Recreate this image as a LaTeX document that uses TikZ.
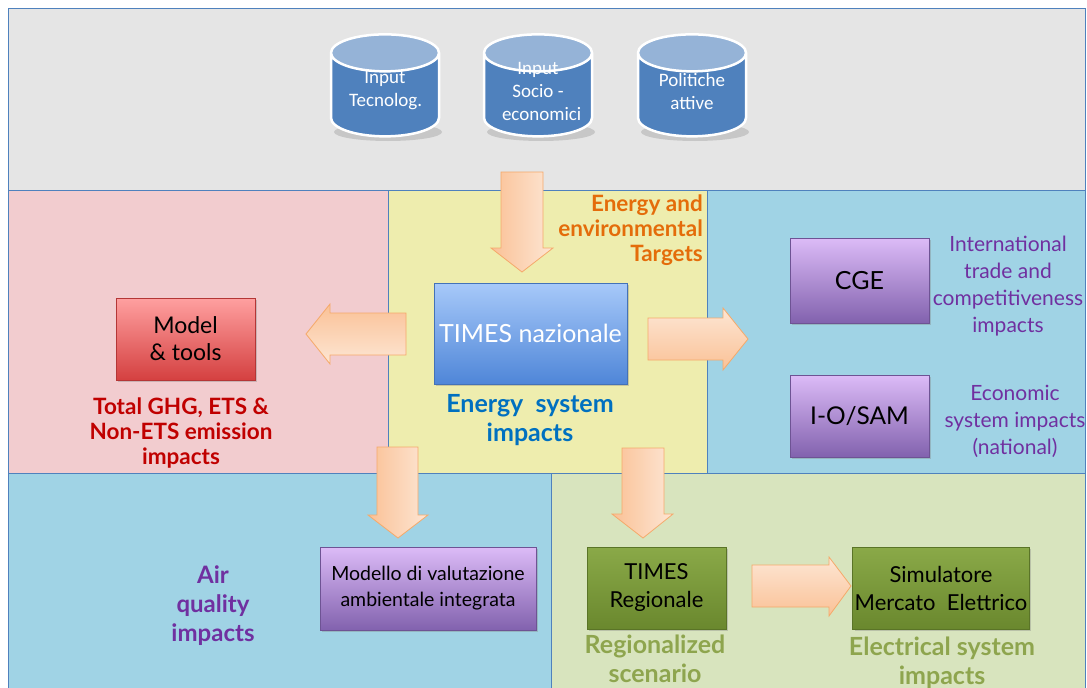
\documentclass[tikz,border=0pt]{standalone}
\usepackage{fontspec}
\setmainfont{Lato}
\newfontfamily\dbfamily{Carlito}
\usetikzlibrary{shapes.geometric,shadows}

% panel and text colours
\definecolor{frameblue}{HTML}{4F81BD}
\definecolor{inputgray}{HTML}{E5E5E5}
\definecolor{ghgpink}{HTML}{F2CCCF}
\definecolor{timesyellow}{HTML}{EEEDAE}
\definecolor{econblue}{HTML}{A0D3E5}
\definecolor{elecgreen}{HTML}{D8E4BE}
\definecolor{dbbody}{HTML}{4F81BD}
\definecolor{dbtop}{HTML}{95B3D7}
\definecolor{peachdark}{HTML}{FAC196}
\definecolor{peachlight}{HTML}{FDE6D4}
\definecolor{peachline}{HTML}{F5A96A}
\definecolor{targetorange}{HTML}{E46C0A}
\definecolor{ghgred}{HTML}{C00000}
\definecolor{energyblue}{HTML}{0070C0}
\definecolor{econpurple}{HTML}{7030A0}
\definecolor{regolive}{HTML}{8EA54E}
% model box shadings
\definecolor{toolstop}{HTML}{FFA0A0}
\definecolor{toolsbot}{HTML}{D44040}
\definecolor{timestop}{HTML}{A7C9F9}
\definecolor{timesbot}{HTML}{4F86D8}
\definecolor{cgetop}{HTML}{DCBBF7}
\definecolor{cgebot}{HTML}{8262AE}
\definecolor{regtop}{HTML}{8AA948}
\definecolor{regbot}{HTML}{6A882E}

\newcommand\dbtext{\dbfamily\fontsize{19}{23}\selectfont}
\newcommand\boxtext{\fontsize{23}{27}\selectfont}
\newcommand\smallboxtext{\fontsize{22}{28}\selectfont}
\newcommand\notetext{\fontsize{22.5}{25}\selectfont}
\newcommand\bignotetext{\fontsize{25}{28.5}\selectfont}
\newcommand\econtext{\fontsize{21}{27}\selectfont}
% same text box for every database, so the cylinders come out alike
\newcommand\dbcontent[1]{\parbox[c][46pt][c]{72pt}{\centering #1\par\vspace{12pt}}}

\tikzset{
  panel/.style={draw=frameblue, line width=0.8pt},
  db/.style={cylinder, shape border rotate=90, aspect=0.5,
    minimum width=108pt, minimum height=102pt, inner sep=1pt,
    draw=white, line width=2.5pt, cylinder uses custom fill,
    cylinder body fill=dbbody, cylinder end fill=dbtop,
    text=white, font=\dbtext},
  model/.style 2 args={top color=#1, bottom color=#2, draw=#2!85!black,
    line width=0.6pt, minimum width=139pt, minimum height=82pt,
    align=center, font=\boxtext, inner sep=2pt,
    drop shadow={opacity=0.35, shadow xshift=2pt, shadow yshift=-2pt}},
  note/.style={align=center, inner sep=0pt, font=\notetext\bfseries},
  fatarrow/.style={draw=peachline, line width=0.8pt, line join=miter},
}

\begin{document}
\begin{tikzpicture}[x=1pt,y=-1pt]
  \useasboundingbox (0,0) rectangle (1087,688);

  % background panels
  \draw[panel, fill=inputgray]   (8,8)    rectangle (1085,190);
  \draw[panel, fill=ghgpink]     (8,190)  rectangle (388,473);
  \draw[panel, fill=timesyellow] (388,190) rectangle (707,473);
  \draw[panel, fill=econblue]    (707,190) rectangle (1085,473);
  \draw[panel, fill=econblue]    (8,473)  rectangle (551,692);
  \draw[panel, fill=elecgreen]   (551,473) rectangle (1085,692);

  % input databases (soft shadow first)
  \foreach \x in {385,538,692}
    \fill[black, opacity=0.13] (\x+3,132) ellipse (54pt and 9pt);
  \node[db] (tecno) at (385,97) {\dbcontent{Input\\Tecnolog.}};
  \node[db] (socio) at (538,97) {\dbcontent{Input\\Socio -\\economici}};
  \node[db] (polit) at (692,97) {\dbcontent{Politiche\\attive}};

  % models
  \node[model={toolstop}{toolsbot}] (tools) at (185.5,339) {Model\\\& tools};
  \node[model={timestop}{timesbot}, minimum width=193pt,
        minimum height=101pt, text=white, font=\fontsize{25}{30}\selectfont]
        (times) at (530.5,333.5) {TIMES nazionale};
  \node[model={cgetop}{cgebot}, minimum height=85pt, font=\fontsize{25}{30}\selectfont]
        (cge) at (859.5,280.5) {CGE};
  \node[model={cgetop}{cgebot}, font=\fontsize{24.5}{30}\selectfont]
        (iosam) at (859.5,416) {I-O/SAM};
  \node[model={cgetop}{cgebot}, minimum width=216pt, minimum height=83pt,
        font=\fontsize{19.5}{26}\selectfont] (amb) at (428,588.5)
        {Modello di valutazione\\ambientale integrata};
  \node[model={regtop}{regbot}, font=\smallboxtext]
        (timesreg) at (656.5,588) {TIMES\\Regionale};
  \node[model={regtop}{regbot}, minimum width=138pt,
        font=\smallboxtext] (mercato) at (941,588) {Simulatore\\Mercato\ \ Elettrico};

  % impact labels
  \node[note, text=targetorange, anchor=east, align=right] (targets) at (703,230)
        {Energy and\\environmental\\Targets};
  \node[note, text=ghgred] (ghg) at (181,433) {Total GHG, ETS \&\\Non-ETS emission\\impacts};
  \node[note, text=energyblue, font=\bignotetext\bfseries] (ensys) at (530,420)
        {Energy\ \ system\\impacts};
  \node[note, text=econpurple, font=\econtext] (trade) at (1008,286)
        {International\\trade and\\competitiveness\\impacts};
  \node[note, text=econpurple, font=\econtext] (econ) at (1015,421)
        {Economic\\system impacts\\(national)};
  \node[note, text=econpurple, font=\fontsize{24}{29}\selectfont\bfseries] (air) at (213,606)
        {Air\\quality\\impacts};
  \node[note, text=regolive, font=\bignotetext\bfseries] (regio) at (655,659)
        {Regionalized\\scenario};
  \node[note, text=regolive, font=\bignotetext\bfseries] (elec) at (942,663)
        {Electrical system\\impacts};

  % block arrows
  \path[fatarrow, left color=peachdark, right color=peachlight]
    (501,172) -- (543,172) -- (543,248) -- (553,248) -- (522,272)
    -- (491,248) -- (501,248) -- cycle;
  \path[fatarrow, top color=peachdark, bottom color=peachlight]
    (406,313) -- (330,313) -- (330,304) -- (306,334) -- (330,364)
    -- (330,355) -- (406,355) -- cycle;
  \path[fatarrow, top color=peachlight, bottom color=peachdark]
    (648,318) -- (723,318) -- (723,308) -- (748,339) -- (723,370)
    -- (723,360) -- (648,360) -- cycle;
  \path[fatarrow, left color=peachdark, right color=peachlight]
    (377,447) -- (418,447) -- (418,515) -- (428,515) -- (398,538)
    -- (368,515) -- (377,515) -- cycle;
  \path[fatarrow, left color=peachdark, right color=peachlight]
    (622,448) -- (664,448) -- (664,514) -- (673,514) -- (643,538)
    -- (612,514) -- (622,514) -- cycle;
  \path[fatarrow, top color=peachlight, bottom color=peachdark]
    (752,565) -- (829,565) -- (829,557) -- (851,586) -- (829,616)
    -- (829,607) -- (752,607) -- cycle;
\end{tikzpicture}
\end{document}
